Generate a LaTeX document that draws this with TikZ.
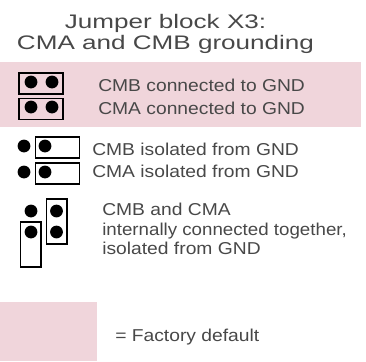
\documentclass[tikz,border=0pt]{standalone}
\usepackage{fontspec}
\setmainfont[FakeStretch=1.12]{Liberation Sans}
\newfontfamily\titlefont[FakeStretch=1.33]{Liberation Sans}
\usepackage{xcolor}
\usetikzlibrary{positioning}
\definecolor{factorypink}{RGB}{240,213,219}
\definecolor{labelgray}{RGB}{72,72,72}
\tikzset{
  shade band/.style={fill=factorypink, draw=none, inner sep=0pt, outer sep=0pt},
  pin/.style={circle, fill=black, draw=none, minimum size=9.6pt, inner sep=0pt},
  jumper h/.style={draw=black, line width=1.3pt, minimum width=33pt, minimum height=15.8pt, inner sep=0pt},
  jumper v/.style={draw=black, line width=1.3pt, minimum width=15.2pt, minimum height=33.4pt, inner sep=0pt},
  caption/.style={anchor=base west, inner sep=0pt, text=labelgray, font=\fontsize{12.9pt}{12.9pt}\selectfont},
  heading/.style={inner sep=0pt, text=labelgray, font=\titlefont\fontsize{14.7pt}{14.7pt}\selectfont}
}
\begin{document}
\begin{tikzpicture}[x=0.75pt, y=-0.75pt]
  \useasboundingbox (0, 0) rectangle (366, 361);
  \node[shade band, minimum width=270.75pt, minimum height=48.75pt, anchor=north west] at (0, 62) (band) {};
  \node[shade band, minimum width=72.75pt, minimum height=44.25pt, anchor=north west] at (0, 302) (legend) {};

  \node[heading, anchor=base] at (165.5, 28) (title1) {Jumper block X3:};
  \node[heading, anchor=base] at (165.5, 49.5) (title2) {CMA and CMB grounding};

  % factory default jumpers
  \node[jumper h] at (41, 83.5) (jb) {};
  \node[jumper h] at (41, 109) (ja) {};
  \node[pin] at (31, 82) (b1) {};
  \node[pin] at (52, 82) (b2) {};
  \node[pin] at (31, 107) (a1) {};
  \node[pin] at (52, 107) (a2) {};
  \node[caption] at (98, 91) (cap1) {CMB connected to GND};
  \node[caption] at (98, 114) (cap2) {CMA connected to GND};

  % isolated
  \node[jumper h] at (57.5, 147.5) (jc) {};
  \node[jumper h] at (57.5, 173.5) (jd) {};
  \node[pin] at (24, 146) (c1) {};
  \node[pin] at (45, 146) (c2) {};
  \node[pin] at (24, 172) (d1) {};
  \node[pin] at (45, 172) (d2) {};
  \node[caption] at (92, 155) (cap3) {CMB isolated from GND};
  \node[caption] at (92, 177) (cap4) {CMA isolated from GND};

  % linked together
  \node[jumper v] at (56.5, 221.5) (je) {};
  \node[jumper v] at (30.5, 244.5) (jf) {};
  \node[pin] at (31, 211) (e1) {};
  \node[pin] at (56.5, 211) (e2) {};
  \node[pin] at (31, 232) (f1) {};
  \node[pin] at (56.5, 232) (f2) {};
  \node[caption] at (102, 215) (cap5) {CMB and CMA};
  \node[caption, xscale=0.972] at (102, 235.5) (cap6) {internally connected together,};
  \node[caption] at (102, 254) (cap7) {isolated from GND};

  \node[caption] at (115, 341) (cap8) {= Factory default};
\end{tikzpicture}
\end{document}
